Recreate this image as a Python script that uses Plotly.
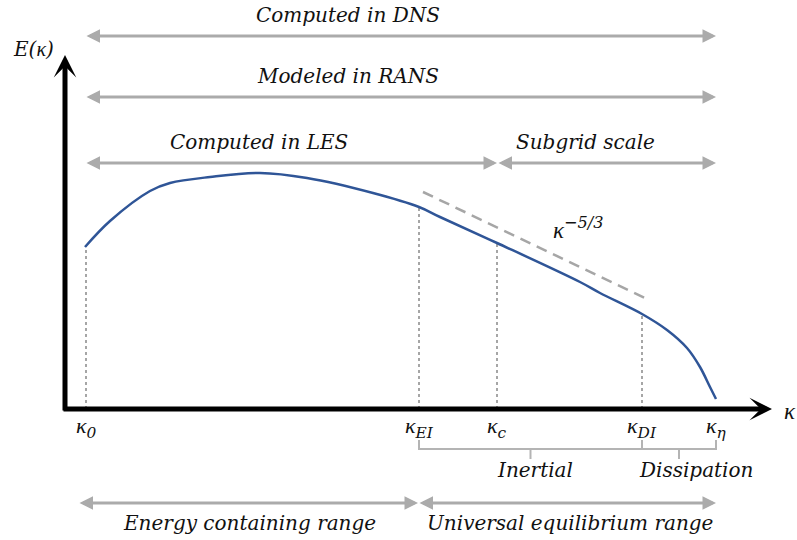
import numpy as np
import plotly.graph_objects as go

# ---- data (schematic units: x = wavenumber position, y = energy) ----
curve_k = [0.20, 0.45, 0.85, 1.05, 1.45, 1.95, 2.42, 3.08, 3.54, 3.75, 4.32, 5.15, 5.35, 5.77, 6.02, 6.22, 6.35, 6.45, 6.51]
curve_E = [1.62, 1.88, 2.18, 2.26, 2.32, 2.36, 2.31, 2.16, 2.02, 1.92, 1.66, 1.27, 1.16, 0.95, 0.79, 0.61, 0.42, 0.22, 0.10]

K = '<span style="font-family:Liberation Serif">κ</span>'
kappa_labels = [K + "<sub>0</sub>", K + "<sub>EI</sub>", K + "<sub>c</sub>", K + "<sub>DI</sub>", K + "<sub>η</sub>"]
kappa_pos = [0.21, 3.54, 4.32, 5.77, 6.51]

slope_k = [3.58, 5.80]
slope_E = [2.17, 1.11]
slope_label = K + "<sup>−5/3</sup>"

top_ranges = ["Computed in DNS", "Modeled in RANS", "Computed in LES", "Subgrid scale"]
top_start = [0.20, 0.20, 0.20, 4.32]
top_end = [6.51, 6.51, 4.32, 6.51]
top_level = [3.73, 3.12, 2.46, 2.46]
top_text_x = [2.83, 2.83, 1.94, 5.20]

bottom_ranges = ["Energy containing range", "Universal equilibrium range"]
bottom_start = [0.13, 3.53]
bottom_end = [3.53, 6.51]
bottom_level = -0.94
bottom_text_x = [1.84, 5.05]

bracket_labels = ["Inertial", "Dissipation"]
bracket_start = [3.54, 5.77]
bracket_end = [5.77, 6.51]
bracket_text_x = [4.70, 6.31]

GREY = "#ababab"
BLUE = "#2f5597"
FONT = "DejaVu Serif"

fig = go.Figure()

# dotted guide lines from axis to curve
for kp in kappa_pos[:4]:
    e = float(np.interp(kp, curve_k, curve_E))
    fig.add_trace(go.Scatter(x=[kp, kp], y=[0, e], mode="lines",
                             line=dict(color="#a6a6a6", width=2, dash="dot"),
                             showlegend=False, hoverinfo="skip"))

# -5/3 slope
fig.add_trace(go.Scatter(x=slope_k, y=slope_E, mode="lines",
                         line=dict(color="#a6a6a6", width=2.5, dash="11px,7px"),
                         showlegend=False, hoverinfo="skip"))

# spectrum curve
fig.add_trace(go.Scatter(x=curve_k, y=curve_E, mode="lines",
                         line=dict(color=BLUE, width=2.5, shape="spline", smoothing=1.0),
                         showlegend=False, hoverinfo="skip"))

# brackets
for s, e in zip(bracket_start, bracket_end):
    m = (s + e) / 2
    fig.add_trace(go.Scatter(x=[s, s, e, e], y=[-0.31, -0.40, -0.40, -0.31], mode="lines",
                             line=dict(color="#b4b4b4", width=2), showlegend=False, hoverinfo="skip"))
    fig.add_trace(go.Scatter(x=[m, m], y=[-0.40, -0.50], mode="lines",
                             line=dict(color="#b4b4b4", width=2), showlegend=False, hoverinfo="skip"))

ann = []

def arrow(x0, y0, x1, y1, color, width, head, size, both=False):
    ann.append(dict(x=x1, y=y1, ax=x0, ay=y0, xref="x", yref="y", axref="x", ayref="y",
                    text="", showarrow=True, arrowhead=head, arrowsize=size, arrowwidth=width,
                    arrowcolor=color, arrowside="end+start" if both else "end",
                    startarrowhead=head, startarrowsize=size, standoff=0, startstandoff=0))

def label(x, y, txt, size=20, italic=True, color="#111111"):
    ann.append(dict(x=x, y=y, xref="x", yref="y", text=("<i>%s</i>" % txt) if italic else txt,
                    showarrow=False, font=dict(family=FONT, size=size, color=color),
                    xanchor="center", yanchor="middle"))

# axes
arrow(-0.03, 0, 7.07, 0, "black", 5, 3, 0.75)
arrow(0, -0.03, 0, 3.54, "black", 5, 3, 0.75)
label(-0.32, 3.60, "E(" + K + ")", size=20)
label(7.25, -0.02, K, size=23)

# kappa tick labels
for kp, kl in zip(kappa_pos, kappa_labels):
    label(kp, -0.18, kl, size=22)

# range arrows
for t, s, e, lv, tx in zip(top_ranges, top_start, top_end, top_level, top_text_x):
    arrow(s, lv, e, lv, GREY, 3, 2, 0.9, both=True)
    label(tx, lv + 0.21, t, size=20)
for t, s, e, tx in zip(bottom_ranges, bottom_start, bottom_end, bottom_text_x):
    arrow(s, bottom_level, e, bottom_level, GREY, 3, 2, 0.9, both=True)
    label(tx, bottom_level - 0.20, t, size=20)

for t, tx in zip(bracket_labels, bracket_text_x):
    label(tx, -0.61, t, size=20)

label(5.13, 1.81, slope_label, size=23)

fig.update_layout(
    width=797, height=540, margin=dict(l=0, r=0, t=0, b=0),
    plot_bgcolor="white", paper_bgcolor="white",
    xaxis=dict(range=[-0.65, 7.32], visible=False, fixedrange=True),
    yaxis=dict(range=[-1.31, 4.09], visible=False, fixedrange=True),
    annotations=ann, showlegend=False,
)

fig.write_html("out.html", config={"displayModeBar": False},
               post_script="document.body.style.margin='0';document.body.style.overflow='hidden';")
